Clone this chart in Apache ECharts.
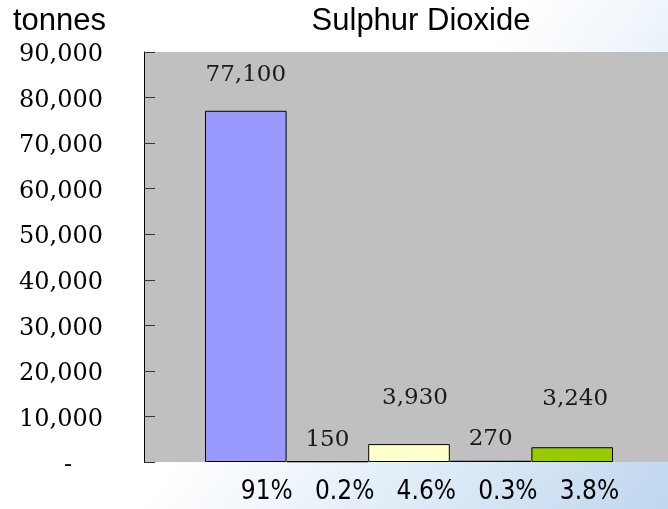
<!DOCTYPE html>
<html>
<head>
<meta charset="utf-8">
<script src="https://cdn.jsdelivr.net/npm/echarts@6/dist/echarts.min.js"></script>
<style>
html,body{margin:0;padding:0;background:#fff;}
#chart{width:668px;height:509px;}
</style>
</head>
<body>
<div id="chart"></div>
<script>
// ---- data ----
const categories = ['Source A', 'Source B', 'Source C', 'Source D', 'Source E'];
const values = [77100, 150, 3930, 270, 3240];
const shareLabels = ['91%', '0.2%', '4.6%', '0.3%', '3.8%'];
const yTicks = [0, 10000, 20000, 30000, 40000, 50000, 60000, 70000, 80000, 90000];
const titleText = 'Sulphur Dioxide';
const unitText = 'tonnes';

// ---- styling (not data) ----
const barColors = ['#9999ff', '#993366', '#ffffcc', '#ccffff', '#99cc00'];
const labelDistance = [24, 10, 35, 10, 37];
const labelShiftX = [0, 0, 6, 0, 3];

const fmt = v => v.toLocaleString('en-US');
const yMin = yTicks[0], yMax = yTicks[yTicks.length - 1], yStep = yTicks[1] - yTicks[0];

const chart = echarts.init(document.getElementById('chart'), null, {renderer: 'canvas'});
const serif = 'DejaVu Serif';

chart.setOption({
  backgroundColor: {
    type: 'linear', x: 0, y: 0, x2: 1, y2: 1,
    colorStops: [{offset: 0, color: '#ffffff'}, {offset: 0.5, color: '#ffffff'}, {offset: 1, color: '#bfd7ef'}]
  },
  animation: false,
  graphic: [
    {type: 'text', left: 13, top: 6, style: {text: unitText, font: '31px "Liberation Sans"', fill: '#000'}},
    {type: 'text', x: 421, y: 21, style: {text: titleText, font: '31px "Liberation Sans"', fill: '#000', align: 'center', verticalAlign: 'middle'}}
  ],
  grid: [
    {left: 144, top: 52, right: 0, height: 410, show: true, backgroundColor: '#c0c0c0', borderWidth: 0},
    {left: 205, top: 52, width: 408, height: 410},
    {left: 252, top: 52, width: 408, height: 410}
  ],
  xAxis: [
    {gridIndex: 0, type: 'category', data: [''], show: false},
    {gridIndex: 1, type: 'category', data: categories, show: false},
    {gridIndex: 2, type: 'category', data: shareLabels,
      axisLine: {show: false}, axisTick: {show: false},
      axisLabel: {align: 'right', margin: 17, fontFamily: '"DejaVu Sans Condensed", "Liberation Sans"', fontSize: 26, color: '#000'}}
  ],
  yAxis: [
    {gridIndex: 0, type: 'value', min: yMin, max: yMax, interval: yStep,
      splitLine: {show: false},
      axisLine: {show: true, lineStyle: {color: '#000', width: 1}},
      axisTick: {show: true, inside: true, length: 11, lineStyle: {color: '#333'}},
      axisLabel: {
        margin: 41, fontFamily: serif, fontSize: 24, color: '#000', padding: [6, 0, 0, 0],
        formatter: v => v === 0 ? '{d|-}' : fmt(v),
        rich: {d: {fontFamily: serif, fontSize: 24, color: '#000', padding: [2, 31, 0, 0]}}
      }},
    {gridIndex: 1, type: 'value', min: yMin, max: yMax, interval: yStep, show: false, splitLine: {show: false}},
    {gridIndex: 2, type: 'value', min: yMin, max: yMax, interval: yStep, show: false, splitLine: {show: false}}
  ],
  series: [{
    type: 'bar', xAxisIndex: 1, yAxisIndex: 1,
    barWidth: '100%', barCategoryGap: 0,
    data: values.map((v, i) => ({
      value: v,
      itemStyle: {color: barColors[i], borderColor: '#000', borderWidth: 1},
      label: {distance: labelDistance[i], offset: [labelShiftX[i], 0]}
    })),
    label: {show: true, position: 'top', fontFamily: serif, fontSize: 23, color: '#1a1a1a', formatter: p => fmt(p.value)}
  }]
});
</script>
</body>
</html>
